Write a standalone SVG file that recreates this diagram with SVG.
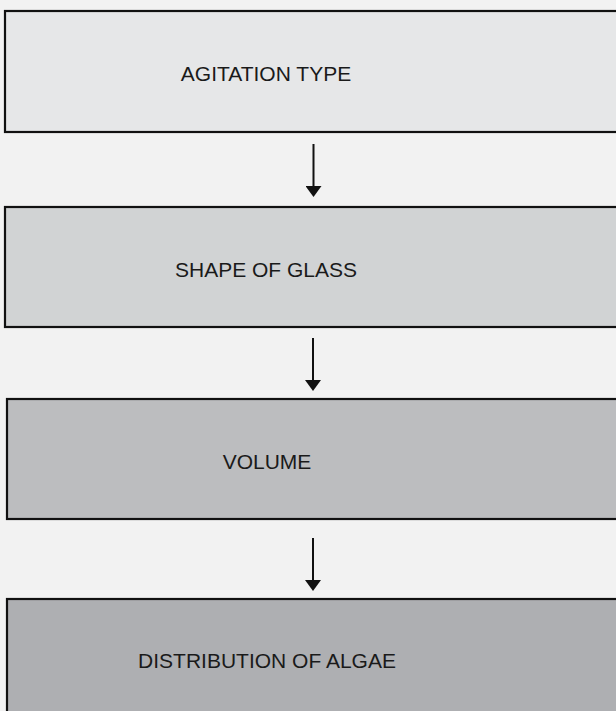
<svg xmlns="http://www.w3.org/2000/svg" width="616" height="711" viewBox="0 0 616 711">
<style>
.box{stroke:#111;stroke-width:2.2}
.lbl{font-family:"Liberation Sans",Arial,sans-serif;font-size:21px;fill:#1a1a1a;text-anchor:middle}
.conn{stroke:#111;stroke-width:2;fill:none;marker-end:url(#ah)}
</style>
<defs>
<marker id="ah" markerUnits="userSpaceOnUse" markerWidth="11" markerHeight="16" refX="0" refY="8" orient="auto" viewBox="0 0 11 16">
<path d="M0,0 L11,8 L0,16 Z" fill="#111"/>
</marker>
</defs>
<rect width="616" height="711" fill="#F2F2F2"/>
<g id="node-agitation">
<rect class="box" x="5" y="11" width="620" height="121" fill="#E6E7E8"/>
<text class="lbl" x="266" y="81">AGITATION TYPE</text>
</g>
<g id="node-shape">
<rect class="box" x="5" y="207" width="620" height="120" fill="#D1D3D4"/>
<text class="lbl" x="266" y="277">SHAPE OF GLASS</text>
</g>
<g id="node-volume">
<rect class="box" x="7" y="399" width="620" height="120" fill="#BCBDBF"/>
<text class="lbl" x="267" y="469">VOLUME</text>
</g>
<g id="node-distribution">
<rect class="box" x="7" y="599" width="620" height="130" fill="#AEAFB2"/>
<text class="lbl" x="267" y="668">DISTRIBUTION OF ALGAE</text>
</g>
<g id="connectors">
<line class="conn" x1="313.5" y1="144" x2="313.5" y2="186"/>
<line class="conn" x1="313" y1="338" x2="313" y2="380"/>
<line class="conn" x1="313" y1="538" x2="313" y2="580"/>
</g>
</svg>
